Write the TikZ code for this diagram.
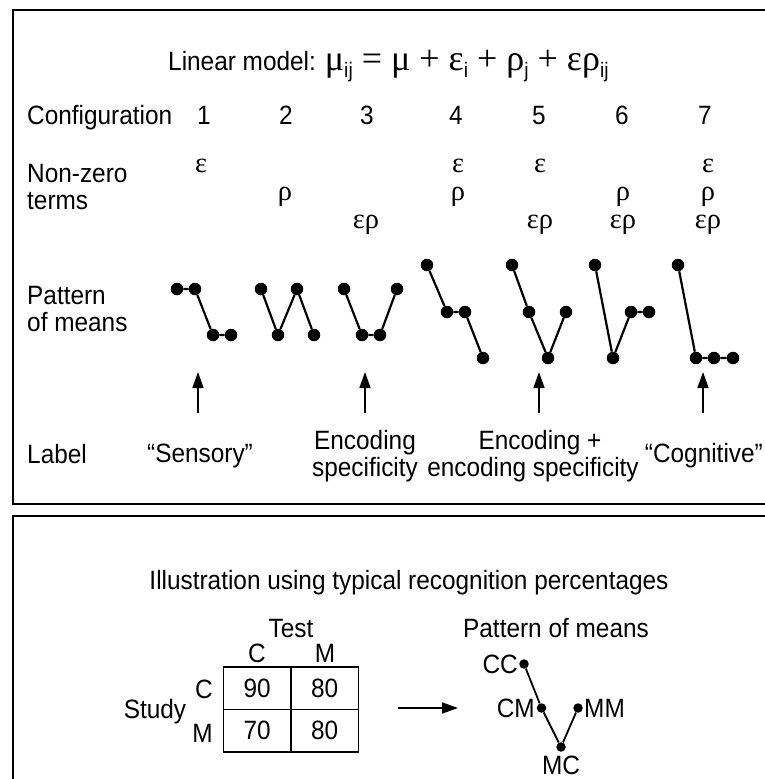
\documentclass[tikz,border=0pt]{standalone}
\usepackage{fontspec}
\setmainfont{Liberation Sans}[FakeStretch=0.92]
\newfontfamily\grk{Liberation Serif}
\usetikzlibrary{arrows.meta}
\newcommand\sbs[1]{\raisebox{-0.3em}{\fontsize{21}{21}\selectfont #1}}
\newcommand\G[1]{{\fontsize{36}{36}\grk #1}}
\begin{document}
\begin{tikzpicture}[x=1pt,y=-1pt,
  txt/.style={inner sep=0pt, anchor=base, font=\fontsize{26.5}{28}\selectfont},
  txtw/.style={txt, anchor=base west},
  gk/.style={inner sep=0pt, anchor=base, font=\fontsize{28.5}{29}\grk},
  dot/.style={circle, fill=black, inner sep=0pt, minimum size=12.5pt},
  sdot/.style={circle, fill=black, inner sep=0pt, minimum size=9.5pt},
  ln/.style={line width=2.2pt},
  sln/.style={line width=1.8pt},
  frame/.style={line width=2.5pt},
  up/.style={line width=1.6pt, -{Triangle[length=16pt,width=11pt]}},
  cell/.style={draw, line width=1.8pt, minimum width=67.5pt, minimum height=42.5pt, inner sep=0pt, font=\fontsize{26.5}{28}\selectfont}
]
\useasboundingbox (0,0) rectangle (764,779);
% frames
\draw[frame] (770,10) -- (13,10) -- (13,504) -- (770,504);
\draw[frame] (770,516) -- (13,516) -- (13,785);

% title
\node[txtw] (title) at (168,70) {Linear model:\hspace{9pt}\G{μ}\sbs{ij}\G{ = μ + ε}\sbs{i}\G{ + ρ}\sbs{j}\G{ + ερ}\sbs{ij}};

% configuration row
\node[txtw] (conf) at (27,124) {Configuration};
\node[txt] (n1) at (204,124) {1};
\node[txt] (n2) at (286,124) {2};
\node[txt] (n3) at (367,124) {3};
\node[txt] (n4) at (456,124) {4};
\node[txt] (n5) at (539,124) {5};
\node[txt] (n6) at (622,124) {6};
\node[txt] (n7) at (705,124) {7};

% non-zero terms
\node[txtw] (nz) at (27,182) {Non-zero};
\node[txtw] (tm) at (27,209) {terms};
\node[gk] (g1a) at (201,172) {ε};
\node[gk] (g2b) at (285,200) {ρ};
\node[gk] (g3c) at (366,228) {ερ};
\node[gk] (g4a) at (458,172) {ε};
\node[gk] (g4b) at (458,200) {ρ};
\node[gk] (g5a) at (540,172) {ε};
\node[gk] (g5c) at (540,228) {ερ};
\node[gk] (g6b) at (623,200) {ρ};
\node[gk] (g6c) at (623,228) {ερ};
\node[gk] (g7a) at (708,172) {ε};
\node[gk] (g7b) at (708,200) {ρ};
\node[gk] (g7c) at (708,228) {ερ};

% pattern of means
\node[txtw] (pt) at (27,304) {Pattern};
\node[txtw] (om) at (27,331) {of means};

\node[dot] (p11) at (177,289) {};
\node[dot] (p12) at (195,289) {};
\node[dot] (p13) at (213,335) {};
\node[dot] (p14) at (231,335) {};
\draw[ln] (p11) -- (p12) -- (p13) -- (p14);

\node[dot] (p21) at (261,289) {};
\node[dot] (p22) at (278,335) {};
\node[dot] (p23) at (297,289) {};
\node[dot] (p24) at (314,335) {};
\draw[ln] (p21) -- (p22) -- (p23) -- (p24);

\node[dot] (p31) at (344,289) {};
\node[dot] (p32) at (362,335) {};
\node[dot] (p33) at (380,335) {};
\node[dot] (p34) at (397,289) {};
\draw[ln] (p31) -- (p32) -- (p33) -- (p34);

\node[dot] (p41) at (427,265) {};
\node[dot] (p42) at (447,312) {};
\node[dot] (p43) at (465,312) {};
\node[dot] (p44) at (483,358) {};
\draw[ln] (p41) -- (p42) -- (p43) -- (p44);

\node[dot] (p51) at (512,265) {};
\node[dot] (p52) at (529,312) {};
\node[dot] (p53) at (548,358) {};
\node[dot] (p54) at (566,312) {};
\draw[ln] (p51) -- (p52) -- (p53) -- (p54);

\node[dot] (p61) at (595,265) {};
\node[dot] (p62) at (613,358) {};
\node[dot] (p63) at (631,312) {};
\node[dot] (p64) at (649,312) {};
\draw[ln] (p61) -- (p62) -- (p63) -- (p64);

\node[dot] (p71) at (678,265) {};
\node[dot] (p72) at (696,358) {};
\node[dot] (p73) at (714,358) {};
\node[dot] (p74) at (733,358) {};
\draw[ln] (p71) -- (p72) -- (p73) -- (p74);

% arrows
\coordinate (a1s) at (198,413); \coordinate (a1e) at (198,372);
\coordinate (a2s) at (365,413); \coordinate (a2e) at (365,372);
\coordinate (a3s) at (539,413); \coordinate (a3e) at (539,372);
\coordinate (a4s) at (703,413); \coordinate (a4e) at (703,372);
\draw[up] (a1s) -- (a1e);
\draw[up] (a2s) -- (a2e);
\draw[up] (a3s) -- (a3e);
\draw[up] (a4s) -- (a4e);

% labels
\node[txtw] (lab) at (27,463) {Label};
\node[txt] (l1) at (200,462) {“Sensory”};
\node[txt] (l2a) at (365,449) {Encoding};
\node[txt] (l2b) at (365,476) {specificity};
\node[txt] (l3a) at (540,449) {Encoding +};
\node[txt] (l3b) at (533,476) {encoding specificity};
\node[txt, anchor=base east] (l4) at (763,462) {“Cognitive”};

% bottom panel
\node[txt] (ill) at (409,589) {Illustration using typical recognition percentages};
\node[txt] (test) at (291,637) {Test};
\node[txt] (tc) at (257,662) {C};
\node[txt] (tmm) at (325,662) {M};
\node[cell] (c11) at (257.25,688.25) {90};
\node[cell] (c12) at (324.75,688.25) {80};
\node[cell] (c21) at (257.25,730.75) {70};
\node[cell] (c22) at (324.75,730.75) {80};
\node[txt, anchor=base east] (sc) at (213,698) {C};
\node[txt, anchor=base east] (sm) at (213,742) {M};
\node[txt] (study) at (155,718) {Study};

\coordinate (ba) at (398,708); \coordinate (bb) at (458,708);
\draw[up] (ba) -- (bb);

\node[txt] (pom) at (556,637) {Pattern of means};
\node[sdot] (cc) at (524,664) {};
\node[sdot] (cm) at (541.5,708) {};
\node[sdot] (mc) at (561,747) {};
\node[sdot] (mm) at (578,708) {};
\draw[sln] (cc) -- (cm) -- (mc) -- (mm);
\node[txt, anchor=base east] (lcc) at (518,673) {CC};
\node[txt, anchor=base east] (lcm) at (535,717) {CM};
\node[txt, anchor=base west] (lmm) at (584,717) {MM};
\node[txt] (lmc) at (561,774) {MC};
\end{tikzpicture}
\end{document}
